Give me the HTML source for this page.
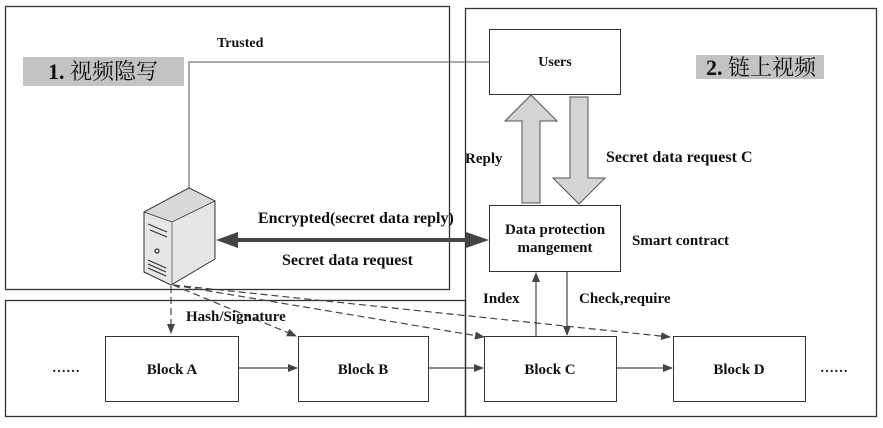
<!DOCTYPE html>
<html><head><meta charset="utf-8"><style>
body{margin:0;background:#fff}
svg text{font-family:"Liberation Serif","Noto Serif CJK SC",serif;font-weight:bold;font-size:14px;fill:#111}
</style></head><body>
<svg width="883" height="423" viewBox="0 0 883 423" xmlns="http://www.w3.org/2000/svg">
<defs>
<marker id="a" markerWidth="10" markerHeight="8" refX="9" refY="4" orient="auto" markerUnits="userSpaceOnUse"><path d="M0,0 L10,4 L0,8 Z" fill="#444"/></marker>
</defs>
<g fill="none" stroke="#333" stroke-width="1.3">
<rect x="5.5" y="6.5" width="444" height="283"/>
<rect x="465.5" y="8.5" width="411" height="408"/>
<rect x="5.5" y="300.5" width="460" height="116"/>
</g>
<rect x="23" y="57" width="161" height="29" fill="#c3c3c3"/>
<text x="48" y="79" style="font-size:22px;font-weight:normal"><tspan font-weight="bold">1.</tspan> 视频隐写</text>
<rect x="696" y="55" width="128" height="24" fill="#c3c3c3"/>
<text x="706" y="75" style="font-size:22px;font-weight:normal"><tspan font-weight="bold">2.</tspan> 链上视频</text>
<text x="217" y="47">Trusted</text>
<polyline points="189,188 189,62 489,62" fill="none" stroke="#555" stroke-width="1"/>
<rect x="489.5" y="29.5" width="131" height="65" fill="#fff" stroke="#333"/>
<text x="555" y="66" text-anchor="middle">Users</text>
<rect x="489.5" y="205.5" width="131" height="66" fill="#fff" stroke="#333"/>
<text x="555" y="234" text-anchor="middle" style="font-size:15px">Data protection</text>
<text x="555" y="252" text-anchor="middle" style="font-size:15px">mangement</text>
<path d="M522,203 L522,121 L505,121 L531,95 L557,121 L540,121 L540,203 Z" fill="#d4d4d4" stroke="#555"/>
<path d="M570,97 L588,97 L588,178 L605,178 L579,204 L553,178 L570,178 Z" fill="#d4d4d4" stroke="#555"/>
<text x="465" y="163" style="font-size:15px">Reply</text>
<text x="606" y="162" style="font-size:16px">Secret data request C</text>
<text x="632" y="245" style="font-size:15px">Smart contract</text>
<line x1="230" y1="240" x2="476" y2="240" stroke="#444" stroke-width="4"/>
<path d="M216,240 L238,232 L238,248 Z" fill="#444"/>
<path d="M489,240 L466,232 L466,248 Z" fill="#444"/>
<text x="258" y="223" style="font-size:16px">Encrypted(secret data reply)</text>
<text x="282" y="265" style="font-size:16px">Secret data request</text>
<!-- server -->
<path d="M144,212 L189,188 L215,201 L215,259 L171,285 L144,272 Z" fill="#e6e6e6" stroke="#333"/>
<path d="M144,212 L189,188 L215,201 L172,222 Z" fill="#d8d8d8" stroke="#333" stroke-width="0.8"/>
<path d="M172,222 L172,285" stroke="#555" stroke-width="0.8"/>
<g stroke="#333" stroke-width="1.2" fill="none">
<line x1="148" y1="224" x2="167" y2="232"/><line x1="150" y1="230" x2="167" y2="237"/>
<line x1="148" y1="260" x2="166" y2="268"/><line x1="148" y1="264" x2="166" y2="272"/><line x1="148" y1="268" x2="166" y2="276"/>
<circle cx="157" cy="251" r="2"/>
</g>
<g stroke="#444" stroke-width="1.2" stroke-dasharray="7,4" fill="none">
<line x1="171" y1="286" x2="171" y2="333" marker-end="url(#a)"/>
<line x1="173" y1="285" x2="296" y2="336" marker-end="url(#a)"/>
<line x1="173" y1="285" x2="484" y2="337" marker-end="url(#a)"/>
<line x1="173" y1="285" x2="670" y2="337" marker-end="url(#a)"/>
</g>
<text x="186" y="321" style="font-size:15px">Hash/Signature</text>
<g fill="#fff" stroke="#333">
<rect x="105.5" y="336.5" width="133" height="65"/>
<rect x="298.5" y="336.5" width="130" height="65"/>
<rect x="484.5" y="336.5" width="132" height="65"/>
<rect x="673.5" y="336.5" width="132" height="65"/>
</g>
<text x="172" y="374" text-anchor="middle" style="font-size:15px">Block A</text>
<text x="363" y="374" text-anchor="middle" style="font-size:15px">Block B</text>
<text x="550" y="374" text-anchor="middle" style="font-size:15px">Block C</text>
<text x="739" y="374" text-anchor="middle" style="font-size:15px">Block D</text>
<text x="52" y="372">……</text>
<text x="820" y="372">……</text>
<g stroke="#444" stroke-width="1.2" fill="none">
<line x1="239" y1="368" x2="297" y2="368" marker-end="url(#a)"/>
<line x1="429" y1="368" x2="483" y2="368" marker-end="url(#a)"/>
<line x1="617" y1="368" x2="672" y2="368" marker-end="url(#a)"/>
<line x1="536" y1="336" x2="536" y2="273" marker-end="url(#a)"/>
<line x1="567" y1="272" x2="567" y2="335" marker-end="url(#a)"/>
</g>
<text x="483" y="303" style="font-size:15px">Index</text>
<text x="579" y="303" style="font-size:15px">Check,require</text>
</svg>
</body></html>
